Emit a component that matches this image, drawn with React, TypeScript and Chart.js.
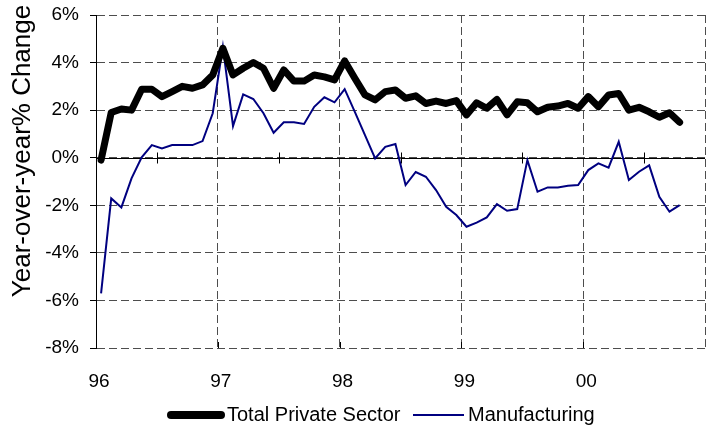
import React, { useEffect, useRef } from 'react';
import { Chart, registerables } from 'chart.js';

Chart.register(...registerables);

// Year labels at each 12-month boundary (Jan 96 ... Jan 01)
const yearLabels = ['96', '97', '98', '99', '00', ''];
const seriesNames = ['Total Private Sector', 'Manufacturing'];
const yAxisTitle = 'Year-over-year% Change';

// Monthly values, Jan 1996 - Oct 2000 (percent, year-over-year)
const totalPrivate = [
  -0.1, 1.9, 2.05, 2.0, 2.88, 2.88, 2.57, 2.78, 3.0, 2.92, 3.06, 3.48,
  4.6, 3.48, 3.76, 4.0, 3.76, 2.92, 3.69, 3.22, 3.22, 3.48, 3.4, 3.27,
  4.07, 3.34, 2.64, 2.43, 2.78, 2.85, 2.5, 2.6, 2.28, 2.38, 2.28, 2.4,
  1.8, 2.31, 2.08, 2.45, 1.8, 2.35, 2.31, 1.93, 2.12, 2.17, 2.28, 2.08,
  2.57, 2.14, 2.64, 2.7, 2.0, 2.12, 1.93, 1.7, 1.89, 1.49,
];
const manufacturing = [
  -5.7, -1.71, -2.09, -0.87, 0.02, 0.53, 0.39, 0.53, 0.53, 0.53, 0.7, 1.87,
  4.67, 1.33, 2.66, 2.47, 1.87, 1.05, 1.49, 1.49, 1.42, 2.14, 2.54, 2.33,
  2.88, 1.93, 0.95, -0.03, 0.46, 0.58, -1.15, -0.6, -0.8, -1.36, -2.06, -2.41,
  -2.9, -2.73, -2.51, -1.95, -2.23, -2.16, -0.1, -1.43, -1.25, -1.25, -1.18, -1.15,
  -0.52, -0.24, -0.42, 0.67, -0.94, -0.59, -0.32, -1.64, -2.27, -1.99,
];

const FONT = '"Liberation Sans", Arial, sans-serif';
const BLACK = '#000000';
const NAVY = '#000080';
const GRID = '#4d4d4d';

const toPoints = (arr: number[]) => arr.map((v, i) => ({ x: i + 0.5, y: v }));

const decorPlugin = {
  id: 'decor',
  beforeDatasetsDraw(chart: any) {
    const { ctx, chartArea, scales } = chart;
    const xs = scales.x;
    const ys = scales.y;
    const y0 = Math.round(ys.getPixelForValue(0)) + 0.5;
    ctx.save();
    ctx.setLineDash([]);
    ctx.strokeStyle = BLACK;
    ctx.lineWidth = 1;
    ctx.beginPath();
    ctx.moveTo(chartArea.left, y0);
    ctx.lineTo(chartArea.right, y0);
    for (let m = 6; m < 60; m += 12) {
      const px = Math.round(xs.getPixelForValue(m)) + 0.5;
      ctx.moveTo(px, y0 - 6);
      ctx.lineTo(px, y0 + 5);
    }
    for (let m = 12; m < 60; m += 12) {
      const px = Math.round(xs.getPixelForValue(m)) + 0.5;
      ctx.moveTo(px, chartArea.bottom);
      ctx.lineTo(px, chartArea.bottom - 6);
    }
    ctx.stroke();
    ctx.restore();
  },
  afterDraw(chart: any) {
    const { ctx } = chart;
    ctx.save();
    // Y axis title
    ctx.fillStyle = BLACK;
    ctx.font = `26px ${FONT}`;
    ctx.translate(30, 151);
    ctx.rotate(-Math.PI / 2);
    ctx.textAlign = 'center';
    ctx.textBaseline = 'alphabetic';
    ctx.fillText(yAxisTitle, 0, 0);
    ctx.restore();

    // Legend
    ctx.save();
    const ly = 415;
    ctx.font = `20px ${FONT}`;
    ctx.textBaseline = 'middle';
    ctx.textAlign = 'left';
    ctx.fillStyle = BLACK;
    ctx.lineCap = 'round';
    ctx.strokeStyle = BLACK;
    ctx.lineWidth = 8;
    ctx.beginPath();
    ctx.moveTo(171, ly);
    ctx.lineTo(221, ly);
    ctx.stroke();
    ctx.fillText(seriesNames[0], 227, ly);
    ctx.lineCap = 'butt';
    ctx.strokeStyle = NAVY;
    ctx.lineWidth = 2;
    ctx.beginPath();
    ctx.moveTo(413, ly);
    ctx.lineTo(464, ly);
    ctx.stroke();
    ctx.fillText(seriesNames[1], 468, ly);
    ctx.restore();
  },
};

export default function App() {
  const ref = useRef<HTMLCanvasElement | null>(null);

  useEffect(() => {
    if (!ref.current) return;
    const chart = new Chart(ref.current, {
      type: 'line',
      data: {
        datasets: [
          {
            label: seriesNames[1],
            data: toPoints(manufacturing),
            borderColor: NAVY,
            backgroundColor: NAVY,
            borderWidth: 2,
            pointRadius: 0,
            tension: 0,
            borderJoinStyle: 'miter',
            order: 2,
          },
          {
            label: seriesNames[0],
            data: toPoints(totalPrivate),
            borderColor: BLACK,
            backgroundColor: BLACK,
            borderWidth: 7,
            pointRadius: 0,
            tension: 0,
            borderJoinStyle: 'round',
            borderCapStyle: 'round',
            order: 1,
          },
        ],
      },
      options: {
        responsive: false,
        animation: false,
        devicePixelRatio: 1,
        layout: { padding: { top: 15, right: 10, bottom: 38, left: 0 } },
        plugins: {
          legend: { display: false },
          tooltip: { enabled: false },
          title: { display: false },
        },
        scales: {
          x: {
            type: 'linear',
            min: 0,
            max: 60,
            afterFit: (s: any) => {
              s.height = 45;
              s.paddingLeft = 0;
              s.paddingRight = 0;
            },
            ticks: {
              stepSize: 12,
              autoSkip: false,
              maxRotation: 0,
              padding: 22,
              labelOffset: 3,
              color: BLACK,
              font: { family: FONT, size: 19 },
              callback: (v: any) => yearLabels[Math.round(Number(v) / 12)] ?? '',
            },
            grid: {
              color: GRID,
              lineWidth: 1,
              drawTicks: false,
            },
            border: { display: false, dash: [8, 4] },
          },
          y: {
            type: 'linear',
            min: -8,
            max: 6,
            afterFit: (s: any) => {
              s.width = 96;
              s.paddingTop = 0;
              s.paddingBottom = 0;
            },
            ticks: {
              stepSize: 2,
              padding: 11,
              color: BLACK,
              font: { family: FONT, size: 19 },
              callback: (v: any) => `${v}%`,
            },
            grid: {
              color: GRID,
              lineWidth: 1,
              drawTicks: true,
              tickLength: 6,
              tickColor: BLACK,
              tickBorderDash: [],
            },
            border: { display: true, color: BLACK, width: 1, dash: [8, 4] },
          },
        },
      },
      plugins: [decorPlugin],
    } as any);
    return () => chart.destroy();
  }, []);

  return (
    <div style={{ position: 'fixed', left: 0, top: 0, width: 715, height: 431, background: '#ffffff' }}>
      <canvas ref={ref} width={715} height={431} style={{ width: 715, height: 431, display: 'block' }} />
    </div>
  );
}
